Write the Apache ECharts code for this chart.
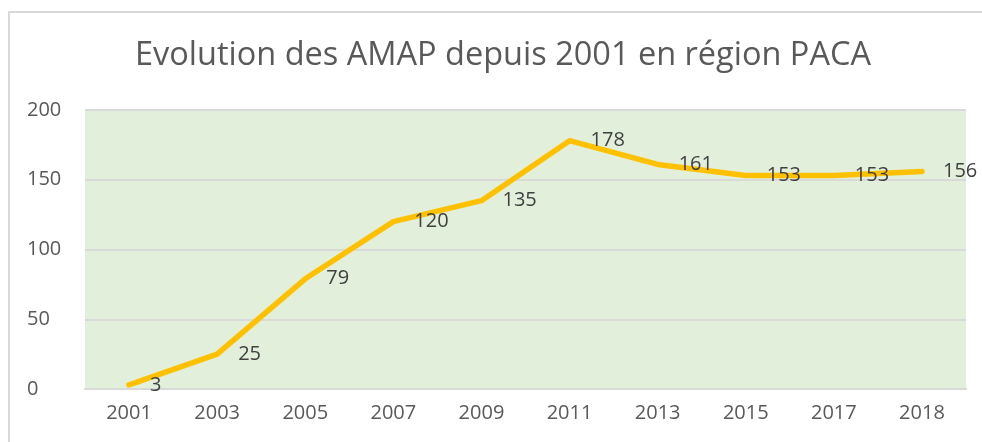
<!DOCTYPE html>
<html lang="fr">
<head>
    <meta charset="UTF-8">
    <title>AMAP PACA</title>
    <style>
        html, body { margin: 0; padding: 0; background: #fff; }
        #div_line { width: 982px; height: 442px; }
    </style>
</head>
<body>
    <div id="div_line"></div>
</body>
<script src="https://cdn.jsdelivr.net/npm/echarts@6/dist/echarts.min.js"></script>
<script type="text/javascript">
    var years = ['2001', '2003', '2005', '2007', '2009', '2011', '2013', '2015', '2017', '2018'];
    var amapCount = [3, 25, 79, 120, 135, 178, 161, 153, 153, 156];
    var yTicks = [0, 50, 100, 150, 200];

    window.onload = function () {
        var chart = echarts.init(document.getElementById('div_line'));
        var option = {
            animation: false,
            title: {
                text: 'Evolution des AMAP depuis 2001 en région PACA',
                left: 130,
                top: 34,
                textStyle: { fontFamily: 'Open Sans', fontSize: 32.5, fontWeight: 'normal', color: '#595959' }
            },
            graphic: [{
                type: 'rect',
                shape: { x: 9, y: 12, width: 1000, height: 500 },
                style: { fill: 'none', stroke: '#d9d9d9', lineWidth: 2 },
                silent: true
            }],
            grid: { left: 85, right: 16, top: 110, bottom: 53, backgroundColor: '#e2efda', show: true, borderWidth: 0 },
            xAxis: {
                type: 'category',
                data: years,
                boundaryGap: true,
                axisLine: { lineStyle: { color: '#d9d9d9', width: 2 } },
                axisTick: { show: false },
                axisLabel: { margin: 14, fontFamily: 'Open Sans', fontSize: 20, color: '#595959' }
            },
            yAxis: {
                type: 'value',
                min: yTicks[0],
                max: yTicks[yTicks.length - 1],
                interval: yTicks[1] - yTicks[0],
                axisLine: { show: false },
                axisTick: { show: false },
                splitLine: { lineStyle: { color: '#d9d9d9', width: 2 } },
                axisLabel: { margin: 58, align: 'left', fontFamily: 'Open Sans', fontSize: 20, color: '#595959' }
            },
            series: [{
                type: 'line',
                data: amapCount,
                symbol: 'circle',
                symbolSize: 2,
                showSymbol: true,
                itemStyle: { color: 'rgba(255,192,0,0)' },
                lineStyle: { color: '#ffc000', width: 5.5, cap: 'round', join: 'round' },
                label: {
                    show: true,
                    position: 'right',
                    distance: 20,
                    offset: [0, 2],
                    fontFamily: 'Open Sans',
                    fontSize: 20,
                    color: '#404040'
                },
                labelLayout: { hideOverlap: false }
            }]
        };
        chart.setOption(option);
    };
</script>
</html>
